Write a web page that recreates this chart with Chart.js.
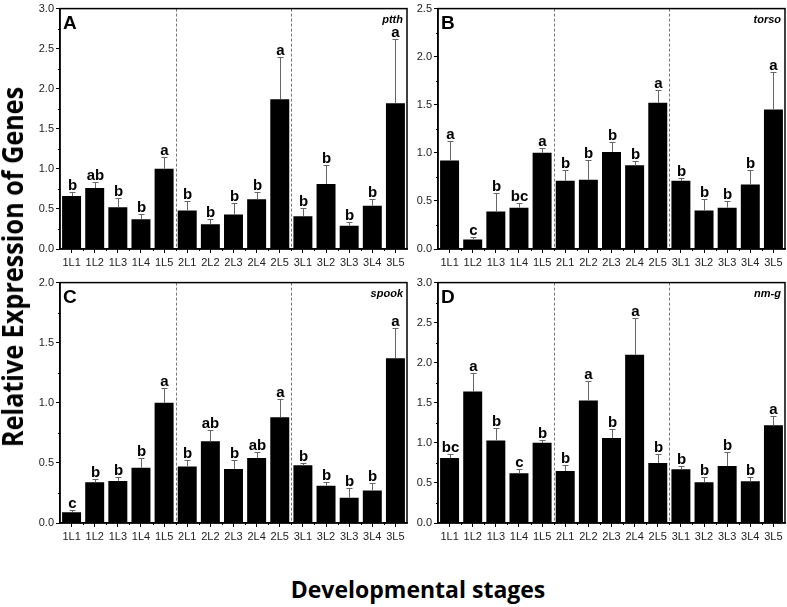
<!DOCTYPE html>
<html>
<head>
<meta charset="utf-8">
<script src="https://cdn.jsdelivr.net/npm/chart.js@4.4.0/dist/chart.umd.min.js"></script>
<style>
    body { margin: 0; width: 787px; height: 607px; background: #fff; position: relative; overflow: hidden; }
    .panel { position: absolute; width: 400px; height: 272px; }
    .title { position: absolute; font-family: 'Open Sans', sans-serif; font-weight: 700; color: #000; white-space: nowrap; }
    #yTitle { left: 12px; top: 267px; font-size: 28px; transform: translate(-50%, -50%) rotate(-90deg) scaleX(0.9); }
    #xTitle { left: 418px; top: 589px; font-size: 23px; transform: translate(-50%, -50%); }
</style>
</head>
<body>
<div class="panel" style="left:15px;top:0px"><canvas id="chartA"></canvas></div>
<div class="panel" style="left:393px;top:0px;width:394px"><canvas id="chartB"></canvas></div>
<div class="panel" style="left:15px;top:274px"><canvas id="chartC"></canvas></div>
<div class="panel" style="left:393px;top:274px;width:394px"><canvas id="chartD"></canvas></div>
<div class="title" id="yTitle">Relative Expression of Genes</div>
<div class="title" id="xTitle">Developmental stages</div>

<script>
const stages = ['1L1', '1L2', '1L3', '1L4', '1L5', '2L1', '2L2', '2L3', '2L4', '2L5', '3L1', '3L2', '3L3', '3L4', '3L5'];

// A - ptth
const ptthMean = [0.66, 0.76, 0.52, 0.37, 1.00, 0.48, 0.31, 0.43, 0.62, 1.87, 0.41, 0.81, 0.29, 0.54, 1.82];
const ptthSE = [0.05, 0.07, 0.12, 0.07, 0.15, 0.12, 0.06, 0.15, 0.09, 0.52, 0.10, 0.24, 0.05, 0.08, 0.80];
const ptthSig = ['b', 'ab', 'b', 'b', 'a', 'b', 'b', 'b', 'b', 'a', 'b', 'b', 'b', 'b', 'a'];

// B - torso
const torsoMean = [0.92, 0.10, 0.39, 0.43, 1.00, 0.71, 0.72, 1.01, 0.87, 1.52, 0.71, 0.40, 0.43, 0.67, 1.45];
const torsoSE = [0.20, 0.02, 0.19, 0.05, 0.05, 0.11, 0.21, 0.10, 0.05, 0.13, 0.03, 0.12, 0.07, 0.15, 0.39];
const torsoSig = ['a', 'c', 'b', 'bc', 'a', 'b', 'b', 'b', 'b', 'a', 'b', 'b', 'b', 'b', 'a'];

// C - spook
const spookMean = [0.09, 0.34, 0.35, 0.46, 1.00, 0.47, 0.68, 0.45, 0.54, 0.88, 0.48, 0.31, 0.21, 0.27, 1.37];
const spookSE = [0.02, 0.03, 0.03, 0.08, 0.12, 0.05, 0.09, 0.07, 0.05, 0.15, 0.02, 0.03, 0.08, 0.06, 0.25];
const spookSig = ['c', 'b', 'b', 'b', 'a', 'b', 'ab', 'b', 'ab', 'a', 'b', 'b', 'b', 'b', 'a'];

// D - nm-g
const nmgMean = [0.81, 1.64, 1.03, 0.62, 1.00, 0.65, 1.53, 1.06, 2.10, 0.75, 0.67, 0.51, 0.71, 0.52, 1.22];
const nmgSE = [0.05, 0.23, 0.15, 0.06, 0.04, 0.07, 0.24, 0.11, 0.46, 0.11, 0.04, 0.06, 0.17, 0.06, 0.11];
const nmgSig = ['bc', 'a', 'b', 'c', 'b', 'b', 'a', 'b', 'a', 'b', 'b', 'b', 'b', 'b', 'a'];

const tickFont = { family: 'Arial, "Liberation Sans", sans-serif', size: 11 };

// error bars, letters, separators, frame and panel labels
const panelDecor = {
    id: 'panelDecor',
    afterDatasetsDraw(chart, args, opts) {
        const ctx = chart.ctx;
        const area = chart.chartArea;
        const x = chart.scales.x;
        const y = chart.scales.y;
        const meta = chart.getDatasetMeta(0);

        ctx.save();

        // dashed group separators
        ctx.strokeStyle = '#777';
        ctx.lineWidth = 1;
        ctx.setLineDash([3, 2]);
        [4.5, 9.5].forEach(v => {
            const px = Math.round((x.getPixelForValue(Math.floor(v)) + x.getPixelForValue(Math.ceil(v))) / 2) + 0.5;
            ctx.beginPath();
            ctx.moveTo(px, area.top);
            ctx.lineTo(px, area.bottom);
            ctx.stroke();
        });
        ctx.setLineDash([]);

        // error bars (upper only) and letters
        meta.data.forEach((bar, i) => {
            const top = opts.mean[i] + opts.se[i];
            const px = Math.round(bar.x) + 0.5;
            const py0 = y.getPixelForValue(opts.mean[i]);
            const py1 = Math.round(y.getPixelForValue(top)) + 0.5;
            ctx.strokeStyle = '#666';
            ctx.lineWidth = 1;
            ctx.beginPath();
            ctx.moveTo(px, py0);
            ctx.lineTo(px, py1);
            ctx.moveTo(px - 3, py1);
            ctx.lineTo(px + 3, py1);
            ctx.stroke();

            ctx.fillStyle = '#000';
            ctx.font = 'bold 15px Arial, "Liberation Sans", sans-serif';
            ctx.textAlign = 'center';
            ctx.textBaseline = 'alphabetic';
            ctx.fillText(opts.sig[i], px, py1 - 3);
        });

        // minor ticks
        ctx.strokeStyle = '#000';
        ctx.lineWidth = 1;
        ctx.beginPath();
        for (let v = 0.25; v < y.max; v += 0.5) {
            const py = Math.round(y.getPixelForValue(v)) + 0.5;
            ctx.moveTo(area.left - 2, py);
            ctx.lineTo(area.left, py);
        }
        for (let i = 0; i < stages.length - 1; i++) {
            const px = Math.round((x.getPixelForValue(i) + x.getPixelForValue(i + 1)) / 2) + 0.5;
            ctx.moveTo(px, area.bottom);
            ctx.lineTo(px, area.bottom + 2);
        }
        ctx.stroke();

        // frame
        ctx.lineWidth = 1.5;
        ctx.strokeStyle = '#000';
        ctx.strokeRect(area.left, area.top, area.right - area.left, area.bottom - area.top);

        // panel letter and gene name
        ctx.fillStyle = '#000';
        ctx.font = 'bold 19px Arial, "Liberation Sans", sans-serif';
        ctx.textAlign = 'left';
        ctx.textBaseline = 'top';
        ctx.fillText(opts.panel, area.left + 3, area.top + 6);

        ctx.font = 'italic bold 11px Arial, "Liberation Sans", sans-serif';
        ctx.textAlign = 'right';
        ctx.textBaseline = 'alphabetic';
        ctx.fillText(opts.gene, area.right - 4, area.top + 14);

        ctx.restore();
    }
};

function makePanel(id, panel, gene, yMax, mean, se, sig, padRight) {
    new Chart(document.getElementById(id), {
        type: 'bar',
        data: {
            labels: stages,
            datasets: [{
                data: mean,
                backgroundColor: '#000',
                borderWidth: 0,
                barPercentage: 0.82,
                categoryPercentage: 1
            }]
        },
        options: {
            responsive: true,
            maintainAspectRatio: false,
            animation: false,
            layout: { padding: { top: 6, right: padRight, left: 0, bottom: 0 } },
            plugins: {
                legend: { display: false },
                tooltip: { enabled: false },
                panelDecor: { panel: panel, gene: gene, mean: mean, se: se, sig: sig }
            },
            scales: {
                x: {
                    grid: { offset: false, drawOnChartArea: false, tickLength: 4, tickColor: '#000' },
                    border: { display: true, color: '#000', width: 1.5 },
                    ticks: { font: tickFont, color: '#222', padding: 3, maxRotation: 0, autoSkip: false },
                    afterFit: s => { s.height = 23; }
                },
                y: {
                    min: 0,
                    max: yMax,
                    grid: { drawOnChartArea: false, tickLength: 4, tickColor: '#000' },
                    border: { display: true, color: '#000', width: 1.5 },
                    ticks: { stepSize: 0.5, font: tickFont, color: '#222', padding: 2, callback: v => v.toFixed(1) },
                    afterFit: s => { s.width = 45; }
                }
            }
        },
        plugins: [panelDecor]
    });
}

function initializeCharts() {
    makePanel('chartA', 'A', 'ptth', 3.0, ptthMean, ptthSE, ptthSig, 8);
    makePanel('chartB', 'B', 'torso', 2.5, torsoMean, torsoSE, torsoSig, 2);
    makePanel('chartC', 'C', 'spook', 2.0, spookMean, spookSE, spookSig, 8);
    makePanel('chartD', 'D', 'nm-g', 3.0, nmgMean, nmgSE, nmgSig, 2);
}

document.addEventListener('DOMContentLoaded', initializeCharts);
</script>
</body>
</html>
